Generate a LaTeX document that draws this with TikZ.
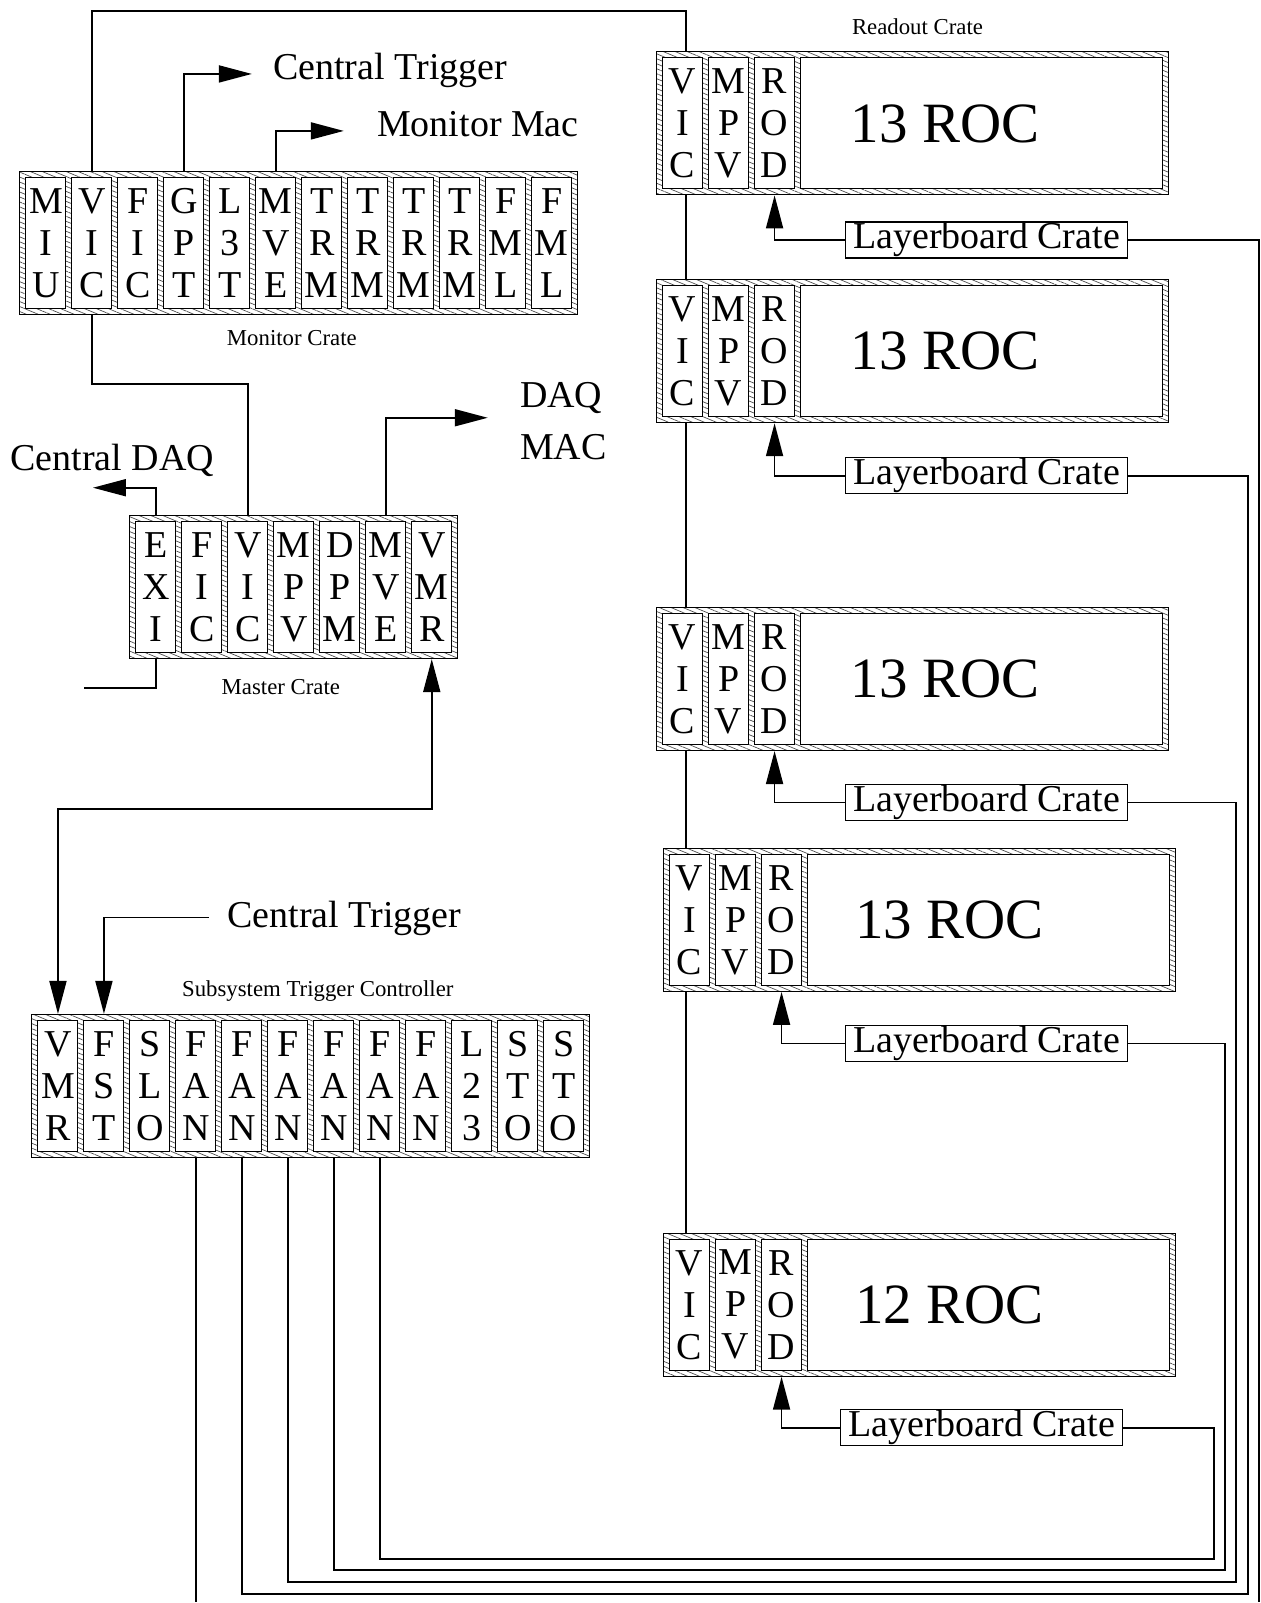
\documentclass[tikz,border=0pt]{standalone}
\usepackage{fontspec}
\setmainfont{Liberation Serif}
\usetikzlibrary{arrows.meta,patterns.meta,calc}
\def\stk#1#2#3{#1\\#2\\#3}
\tikzset{
  crateframe/.style={draw, line width=0.5pt, inner sep=0pt, minimum height=71.5pt,
    preaction={fill=white}, pattern={Lines[angle=-22.6,distance=2.3pt,line width=0.35pt]}, pattern color=black!70},
  slotbox/.style={draw, fill=white, line width=0.5pt, inner sep=0pt, minimum width=20pt,
    minimum height=65.5pt, align=center, font=\fontsize{19}{21}\selectfont},
  rocbox/.style={draw, fill=white, line width=0.5pt, inner sep=0pt, minimum width=181pt, minimum height=65.5pt},
  wire/.style={line width=0.9pt},
  arr/.style={-{Triangle[length=16.5pt,width=8.5pt]}},
  lbox/.style={draw, line width=0.7pt, fill=white, inner sep=0pt, minimum width=141pt,
    minimum height=18pt, font=\fontsize{19}{21}\selectfont},
  big/.style={inner sep=0pt, font=\fontsize{19}{21}\selectfont},
  small/.style={inner sep=0pt, font=\fontsize{11.4}{13}\selectfont},
  roc/.style={inner sep=0pt, font=\fontsize{28.5}{30}\selectfont},
}
\begin{document}
\begin{tikzpicture}[x=0.5pt,y=-0.5pt]
\fill[white] (0,0) rectangle (1261,1603);

% Monitor crate
\node[crateframe, minimum width=279pt] (mon) at (299,243.5) {};
\foreach \t [count=\k from 0] in {MIU,VIC,FIC,GPT,L3T,MVE,TRM,TRM,TRM,TRM,FML,FML}
  \node[slotbox] (m\k) at ({46+46*\k},243.5) {\expandafter\stk\t};
\node[small] (monlbl) at (292,338) {Monitor Crate};

% Master crate
\node[crateframe, minimum width=164pt] (mas) at (294,587.5) {};
\foreach \t [count=\k from 0] in {EXI,FIC,VIC,MPV,DPM,MVE,VMR}
  \node[slotbox] (x\k) at ({156+46*\k},587.5) {\expandafter\stk\t};
\node[small] (maslbl) at (281,687) {Master Crate};

% Subsystem trigger controller
\node[crateframe, minimum width=279pt] (stc) at (311,1086.5) {};
\foreach \t [count=\k from 0] in {VMR,FST,SLO,FAN,FAN,FAN,FAN,FAN,FAN,L23,STO,STO}
  \node[slotbox] (s\k) at ({58+46*\k},1086.5) {\expandafter\stk\t};
\node[small] (stclbl) at (318,992) {Subsystem Trigger Controller};

% Readout crates
\foreach \i/\cy/\dx/\n in {1/123.5/0/13, 2/351.5/0/13, 3/679.5/0/13, 4/920.5/7/13, 5/1305.5/7/12} {
  \node[crateframe, minimum width=256pt] (r\i) at ({913+\dx},\cy) {};
  \node[slotbox] (vic\i) at ({683+\dx},\cy) {V\\I\\C};
  \node[slotbox] (mpv\i) at ({729+\dx},\cy) {M\\P\\V};
  \node[slotbox] (rod\i) at ({775+\dx},\cy) {R\\O\\D};
  \node[rocbox] (rocb\i) at ({982+\dx},\cy) {};
  \node[roc, anchor=west] (roct\i) at ({851+0.6*\dx},\cy) {\n{} ROC};
}
\node[small] (rolbl) at (918,27) {Readout Crate};

% Layerboard crates
\node[lbox] (lb1) at (987,240) {Layerboard Crate};
\node[lbox] (lb2) at (987,476) {Layerboard Crate};
\node[lbox] (lb3) at (987,803) {Layerboard Crate};
\node[lbox] (lb4) at (987,1044) {Layerboard Crate};
\node[lbox] (lb5) at (982,1428.5) {Layerboard Crate};

% Outside labels
\node[big, anchor=base west] (ct1) at (273,80) {Central Trigger};
\node[big, anchor=base west] (mmac) at (377,137) {Monitor Mac};
\node[big, anchor=base west] (cdaq) at (10,471) {Central DAQ};
\node[big, anchor=base west] (daq) at (520,408) {DAQ};
\node[big, anchor=base west] (mac) at (520,460) {MAC};
\node[big, anchor=base west] (ct2) at (227,928) {Central Trigger};

% Coordinates for free ends
\coordinate (vtop) at (686,11);
\coordinate (gptip) at (252,74);
\coordinate (mmtip) at (344,131);
\coordinate (cdtip) at (93,488);
\coordinate (exend) at (84,688);
\coordinate (dqtip) at (488,418);
\coordinate (ftstart) at (209,918);
\coordinate (bot) at (0,1603);
\coordinate (c1) at (1260,1603);
\coordinate (c2) at (1249,1595);
\coordinate (c3) at (1237,1583);
\coordinate (c4) at (1226,1571);
\coordinate (c5) at (1215,1560);

% VIC chain
\draw[wire] (m1 |- mon.north) |- (vtop) -- (vtop |- r1.north);
\foreach \i/\j in {1/2,2/3,3/4,4/5}
  \draw[wire] (vtop |- r\i.south) -- (vtop |- r\j.north);
\draw[wire] (m1 |- mon.south) -- ++(0,69) -| (x2 |- mas.north);

% Monitor outputs
\draw[wire,arr] (m3 |- mon.north) |- (gptip);
\draw[wire,arr] (m5 |- mon.north) |- (mmtip);

% Master crate connections
\draw[wire,arr] (x0 |- mas.north) |- (cdtip);
\draw[wire] (x0 |- mas.south) |- (exend);
\draw[wire,arr] (x5 |- mas.north) |- (dqtip);
\draw[wire,{Triangle[length=16.5pt,width=8.5pt]}-{Triangle[length=16.5pt,width=8.5pt]}]
  (s0 |- stc.north) -- ++(0,-205) -| (x6 |- mas.south);

% Central trigger into FST
\draw[wire,arr] (ftstart) -| (s1 |- stc.north);

% Fan-out wires
\draw[wire] (s3 |- stc.south) -- (s3 |- bot);
\draw[wire] (s4 |- stc.south) |- (c2) |- (lb2.east);
\draw[wire] (s5 |- stc.south) |- (c3) |- (lb3.east);
\draw[wire] (s6 |- stc.south) |- (c4) |- (lb4.east);
\draw[wire] (s7 |- stc.south) |- (c5) |- (lb5.east);
\draw[wire] (lb1.east) -| (c1);

% Layerboard to ROD
\foreach \i in {1,...,5}
  \draw[wire,arr] (lb\i.west) -| (rod\i |- r\i.south);
\end{tikzpicture}
\end{document}
